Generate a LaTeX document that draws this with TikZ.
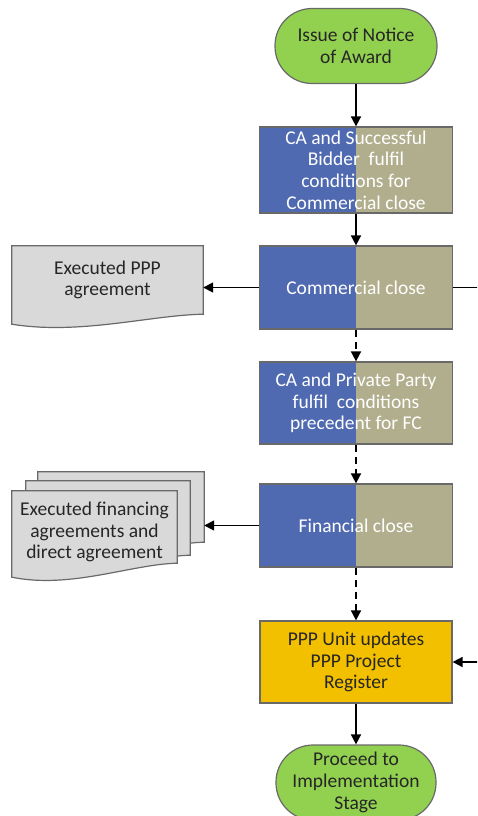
\documentclass[tikz,border=0pt]{standalone}
\usepackage{fontspec}
\setmainfont{Carlito}
\usetikzlibrary{arrows.meta,calc}

\definecolor{termgreen}{RGB}{146,208,80}
\definecolor{splitblue}{RGB}{79,106,177}
\definecolor{splitkhaki}{RGB}{177,174,142}
\definecolor{docgray}{RGB}{217,217,217}
\definecolor{regyellow}{RGB}{243,192,0}
\definecolor{edgegray}{RGB}{105,105,105}
\definecolor{inkdark}{RGB}{38,38,38}

\pgfdeclarelayer{back}
\pgfsetlayers{back,main}

% document shape with a wavy lower edge, drawn round a named node
% #1 node, #2/#3 horizontal offsets of the control points,
% #4 drop of the second control point, #5 drop of the lower-left corner
\newcommand\wavedoc[5]{%
  \path[docshape] (#1.north west) -- (#1.north east) -- (#1.south east)
    .. controls ([xshift=-#2,yshift=-1pt]#1.south east)
            and ([xshift=#3,yshift=-#4]#1.south west)
    .. ([yshift=-#5]#1.south west) -- cycle;}

\begin{document}
\begin{tikzpicture}[x=1pt,y=-1pt,
  every node/.style={font=\fontsize{19.5}{21.7}\selectfont, align=center, inner sep=0pt},
  terminal/.style={draw=edgegray, line width=1.2pt, fill=termgreen, rounded corners=37pt,
    minimum width=162pt, minimum height=75pt, text=inkdark},
  splitbox/.style={draw=edgegray, line width=1.2pt, minimum width=193pt, minimum height=83pt,
    text=white,
    path picture={
      \fill[splitblue] (path picture bounding box.south west) rectangle (path picture bounding box.north);
      \fill[splitkhaki] (path picture bounding box.south) rectangle (path picture bounding box.north east);}},
  regbox/.style={draw=edgegray, line width=1.2pt, fill=regyellow, minimum width=192pt,
    minimum height=82pt, text=inkdark},
  docnode/.style={text=inkdark},
  docshape/.style={draw=edgegray, line width=1.2pt, fill=docgray},
  flow/.style={draw=black, line width=1.6pt, -{Triangle[length=10pt,width=10pt]}},
  dashflow/.style={flow, dash pattern=on 7pt off 5pt}]

\useasboundingbox (0,0) rectangle (477,816);
\clip (0,0) rectangle (477,816);

% main column
\node[terminal] (start) at (356,46) {Issue of Notice\\of Award};
\node[splitbox, minimum height=86pt] (cond) at (356,170)
  {CA and Successful\\Bidder\ \ fulfil\\conditions for\\Commercial close};
\node[splitbox] (cc) at (356,287.5) {Commercial close};
\node[splitbox, minimum height=82pt] (cp) at (356,403)
  {CA and Private Party\\fulfil\ \ conditions\\precedent for FC};
\node[splitbox] (fc) at (356,525.5) {Financial close};
\node[regbox] (reg) at (356,662) {PPP Unit updates\\PPP Project\\Register};
\node[terminal, minimum width=160pt] (impl) at (356,782.5) {Proceed to\\Implementation\\Stage};

% output documents
\node[docnode, minimum width=191pt, minimum height=68pt] (agr) at (107.5,280)
  {Executed PPP\\agreement};
\node[minimum width=166pt, minimum height=70pt] (fin3) at (121,507) {};
\node[minimum width=164pt, minimum height=74pt] (fin2) at (108,518) {};
\node[docnode, minimum width=165pt, minimum height=82pt] (fin) at (94.5,532)
  {Executed financing\\agreements and\\direct agreement};

\begin{pgfonlayer}{back}
  \wavedoc{agr}{53pt}{68pt}{21pt}{10pt}
  \path[docshape] (fin3.north west) -- (fin3.north east) -- (fin3.south east)
    .. controls ([xshift=-46pt,yshift=-1pt]fin3.south east)
            and ([xshift=59pt,yshift=-26pt]fin3.south west)
    .. ([yshift=-14pt]fin3.south west) -- cycle;
  \path[docshape] (fin2.north west) -- (fin2.north east) -- (fin2.south east)
    .. controls ([xshift=-46pt,yshift=-1pt]fin2.south east)
            and ([xshift=59pt,yshift=-26pt]fin2.south west)
    .. ([yshift=-14pt]fin2.south west) -- cycle;
  \path[docshape] (fin.north west) -- (fin.north east) -- ([yshift=10pt]fin.south east)
    .. controls ([xshift=-46pt,yshift=9pt]fin.south east)
            and ([xshift=59pt,yshift=-16pt]fin.south west)
    .. ([yshift=-4pt]fin.south west) -- cycle;
\end{pgfonlayer}

% connectors
\draw[flow] (start) -- (cond);
\draw[flow] (cond) -- (cc);
\draw[dashflow] (cc) -- (cp);
\draw[dashflow] (cp) -- (fc);
\draw[dashflow] (fc) -- (reg);
\draw[flow] (reg) -- (impl);
\draw[flow] (cc.west) -- (cc.west -| agr.east);
\draw[flow] (fc.west) -- (fc.west -| fin3.east);

% register feed that runs along the right margin
\coordinate (rail) at (495,0);
\draw[flow] (cc.east) -- (cc.east -| rail) |- (reg.east);
\end{tikzpicture}
\end{document}
